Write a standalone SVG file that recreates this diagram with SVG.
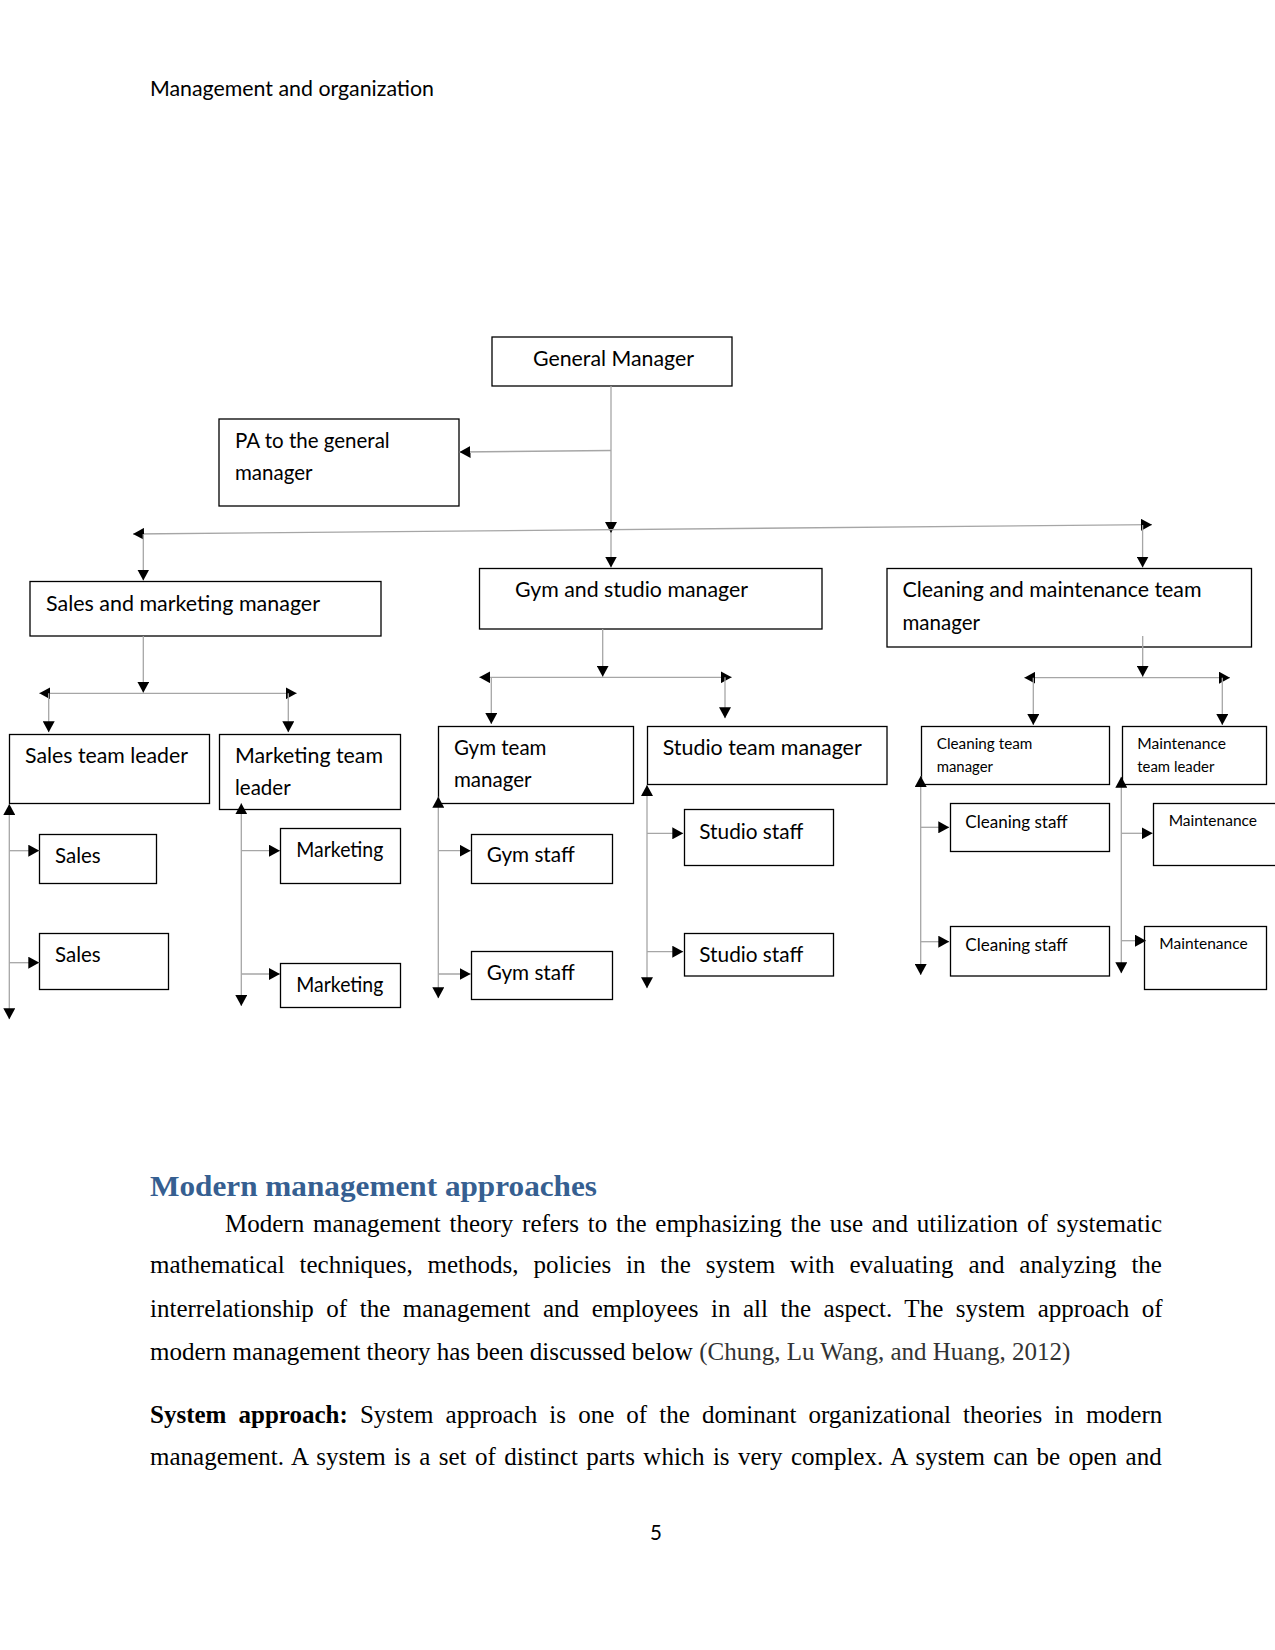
<svg xmlns="http://www.w3.org/2000/svg" width="1275" height="1650" viewBox="0 0 1275 1650">
<style>
.bx{fill:#fff;stroke:#000;stroke-width:1.3}
.t{font-family:Lato,"Noto Sans",sans-serif;font-size:20.5px;fill:#000}
.ts{font-family:Lato,"Noto Sans",sans-serif;font-size:14.9px;fill:#000}
.tm{font-family:Lato,"Noto Sans",sans-serif;font-size:16.8px;fill:#000}
.c path{fill:none;stroke:#a6a6a6;stroke-width:1.3;marker-end:url(#ah)}
.c path.b{marker-start:url(#ah)}
.body{font-family:"Liberation Serif","Times New Roman",serif;font-size:25px;fill:#000}
</style>
<defs>
<marker id="ah" viewBox="0 0 11 12" refX="11" refY="6" markerWidth="11" markerHeight="12" markerUnits="userSpaceOnUse" orient="auto-start-reverse"><path d="M0,0 L11,6 L0,12 z" fill="#000"/></marker>
</defs>
<rect width="1275" height="1650" fill="#fff"/>
<text class="t" x="150" y="96" textLength="284" lengthAdjust="spacingAndGlyphs">Management and organization</text>

<g id="n-gm"><rect class="bx" x="492" y="337" width="240" height="49"/><text class="t" x="533" y="366" textLength="161" lengthAdjust="spacingAndGlyphs">General Manager</text></g>
<g id="n-pa"><rect class="bx" x="219" y="419" width="240" height="87"/><text class="t" x="235" y="448">PA to the general</text><text class="t" x="235" y="479.5">manager</text></g>
<g id="n-sm"><rect class="bx" x="30" y="581.5" width="351" height="54.5"/><text class="t" x="46" y="611" textLength="274" lengthAdjust="spacingAndGlyphs">Sales and marketing manager</text></g>
<g id="n-gs"><rect class="bx" x="479.5" y="568.5" width="342.5" height="60.5"/><text class="t" x="515" y="597" textLength="233" lengthAdjust="spacingAndGlyphs">Gym and studio manager</text></g>
<g id="n-cm"><rect class="bx" x="887" y="568.5" width="364.5" height="78.5"/><text class="t" x="902.5" y="597" textLength="299" lengthAdjust="spacingAndGlyphs">Cleaning and maintenance team</text><text class="t" x="902.5" y="630">manager</text></g>

<g id="n-stl"><rect class="bx" x="9.5" y="734.5" width="200" height="69"/><text class="t" x="25" y="763" textLength="163" lengthAdjust="spacingAndGlyphs">Sales team leader</text></g>
<g id="n-mtl"><rect class="bx" x="219.5" y="734.5" width="181" height="75"/><text class="t" x="235" y="763" textLength="148" lengthAdjust="spacingAndGlyphs">Marketing team</text><text class="t" x="235" y="795">leader</text></g>
<g id="n-s1"><rect class="bx" x="39.5" y="834.5" width="117" height="49"/><text class="t" x="55" y="862.7">Sales</text></g>
<g id="n-s2"><rect class="bx" x="39.5" y="933.5" width="129" height="56"/><text class="t" x="55" y="961.7">Sales</text></g>
<g id="n-m1"><rect class="bx" x="280.5" y="828.5" width="120" height="55"/><text class="t" x="296.3" y="856.7" textLength="87" lengthAdjust="spacingAndGlyphs">Marketing</text></g>
<g id="n-m2"><rect class="bx" x="280.5" y="963.5" width="120" height="44"/><text class="t" x="296.3" y="992.3" textLength="87" lengthAdjust="spacingAndGlyphs">Marketing</text></g>

<g id="n-gtm"><rect class="bx" x="438.5" y="726.5" width="195" height="77"/><text class="t" x="454" y="755">Gym team</text><text class="t" x="454" y="786.7">manager</text></g>
<g id="n-stm"><rect class="bx" x="647.5" y="726.5" width="239.5" height="58"/><text class="t" x="662.7" y="755" textLength="199" lengthAdjust="spacingAndGlyphs">Studio team manager</text></g>
<g id="n-g1"><rect class="bx" x="471.5" y="834.5" width="141" height="49"/><text class="t" x="486.7" y="862.3" textLength="88" lengthAdjust="spacingAndGlyphs">Gym staff</text></g>
<g id="n-g2"><rect class="bx" x="471.5" y="951.5" width="141" height="48"/><text class="t" x="486.7" y="980" textLength="88" lengthAdjust="spacingAndGlyphs">Gym staff</text></g>
<g id="n-st1"><rect class="bx" x="684.5" y="809.5" width="149" height="56"/><text class="t" x="699.3" y="839" textLength="104" lengthAdjust="spacingAndGlyphs">Studio staff</text></g>
<g id="n-st2"><rect class="bx" x="684.5" y="933.5" width="149" height="42.5"/><text class="t" x="699.3" y="961.7" textLength="104" lengthAdjust="spacingAndGlyphs">Studio staff</text></g>

<g id="n-ctm"><rect class="bx" x="921.5" y="726.5" width="188" height="58"/><text class="ts" x="936.7" y="749" textLength="95.7" lengthAdjust="spacingAndGlyphs">Cleaning team</text><text class="ts" x="936.7" y="771.7">manager</text></g>
<g id="n-mtl2"><rect class="bx" x="1122.5" y="726.5" width="144" height="58"/><text class="ts" x="1137.3" y="749" textLength="88.7" lengthAdjust="spacingAndGlyphs">Maintenance</text><text class="ts" x="1137.3" y="771.7">team leader</text></g>
<g id="n-c1"><rect class="bx" x="950.5" y="803.5" width="159" height="48"/><text class="tm" x="965.3" y="827.7" textLength="102.3" lengthAdjust="spacingAndGlyphs">Cleaning staff</text></g>
<g id="n-c2"><rect class="bx" x="950.5" y="926.5" width="159" height="49.5"/><text class="tm" x="965.3" y="951" textLength="102.3" lengthAdjust="spacingAndGlyphs">Cleaning staff</text></g>
<g id="n-mn1"><rect class="bx" x="1153.5" y="803.5" width="130" height="62"/><text class="ts" x="1168.7" y="825.7" textLength="88.3" lengthAdjust="spacingAndGlyphs">Maintenance</text></g>
<g id="n-mn2"><rect class="bx" x="1144.5" y="926.5" width="122" height="63"/><text class="ts" x="1159.3" y="949.3" textLength="88.3" lengthAdjust="spacingAndGlyphs">Maintenance</text></g>

<g id="connectors" class="c">
<path d="M611,386 V533"/>
<path d="M611,533 V567.5"/>
<path d="M611,450.5 L459.5,452"/>
<path class="b" d="M133,534 L1152,524.7"/>
<path d="M143.3,534 V580.5"/>
<path d="M1142.6,525 V567.5"/>
<path d="M143.3,636 V692.7"/>
<path class="b" d="M39.3,693.3 H296.7"/>
<path d="M48.7,693.3 V732.3"/>
<path d="M288.3,693.3 V732.3"/>
<path class="b" d="M9.3,804 V1019.3"/>
<path d="M9.3,850.7 H39.3"/>
<path d="M9.3,962.7 H39.3"/>
<path class="b" d="M241.3,803.3 V1006"/>
<path d="M241.3,850.7 H280"/>
<path d="M241.3,974 H280"/>
<path d="M602.7,629 V676.7"/>
<path class="b" d="M479.3,677.3 H731.7"/>
<path d="M491.3,677.3 V724"/>
<path d="M725,677.3 V718.3"/>
<path class="b" d="M438.3,796.7 V998.3"/>
<path d="M438.3,850.7 H470.7"/>
<path d="M438.3,974 H470.7"/>
<path class="b" d="M647,785 V988.3"/>
<path d="M647,833.3 H683.3"/>
<path d="M647,951.7 H683.3"/>
<path d="M1142.7,636 V676.7"/>
<path class="b" d="M1024.3,677.7 H1230"/>
<path d="M1033.3,677.7 V725"/>
<path d="M1222.3,677.7 V725"/>
<path class="b" d="M920.7,776 V975"/>
<path d="M920.7,827.3 H949.3"/>
<path d="M920.7,941.7 H949.3"/>
<path class="b" d="M1121.3,776.7 V973.3"/>
<path d="M1121.3,833.3 H1152.7"/>
<path d="M1121.3,940.7 H1146"/>
</g>

<text x="150" y="1196" font-family="'Liberation Serif',serif" font-weight="bold" font-size="29" fill="#365f91" textLength="447" lengthAdjust="spacingAndGlyphs">Modern management approaches</text>
<text class="body" x="225" y="1232" word-spacing="2.53">Modern management theory refers to the emphasizing the use and utilization of systematic</text>
<text class="body" x="150" y="1273" word-spacing="8.62">mathematical techniques, methods, policies in the system with evaluating and analyzing the</text>
<text class="body" x="150" y="1317" word-spacing="6.27">interrelationship of the management and employees in all the aspect. The system approach of</text>
<text class="body" x="150" y="1360">modern management theory has been discussed below <tspan fill="#333">(Chung, Lu Wang, and Huang, 2012)</tspan></text>
<text class="body" x="150" y="1423" word-spacing="5.86"><tspan font-weight="bold">System approach:</tspan> System approach is one of the dominant organizational theories in modern</text>
<text class="body" x="150" y="1465" word-spacing="2.2">management. A system is a set of distinct parts which is very complex. A system can be open and</text>
<text class="t" x="656" y="1540" text-anchor="middle">5</text>
</svg>
